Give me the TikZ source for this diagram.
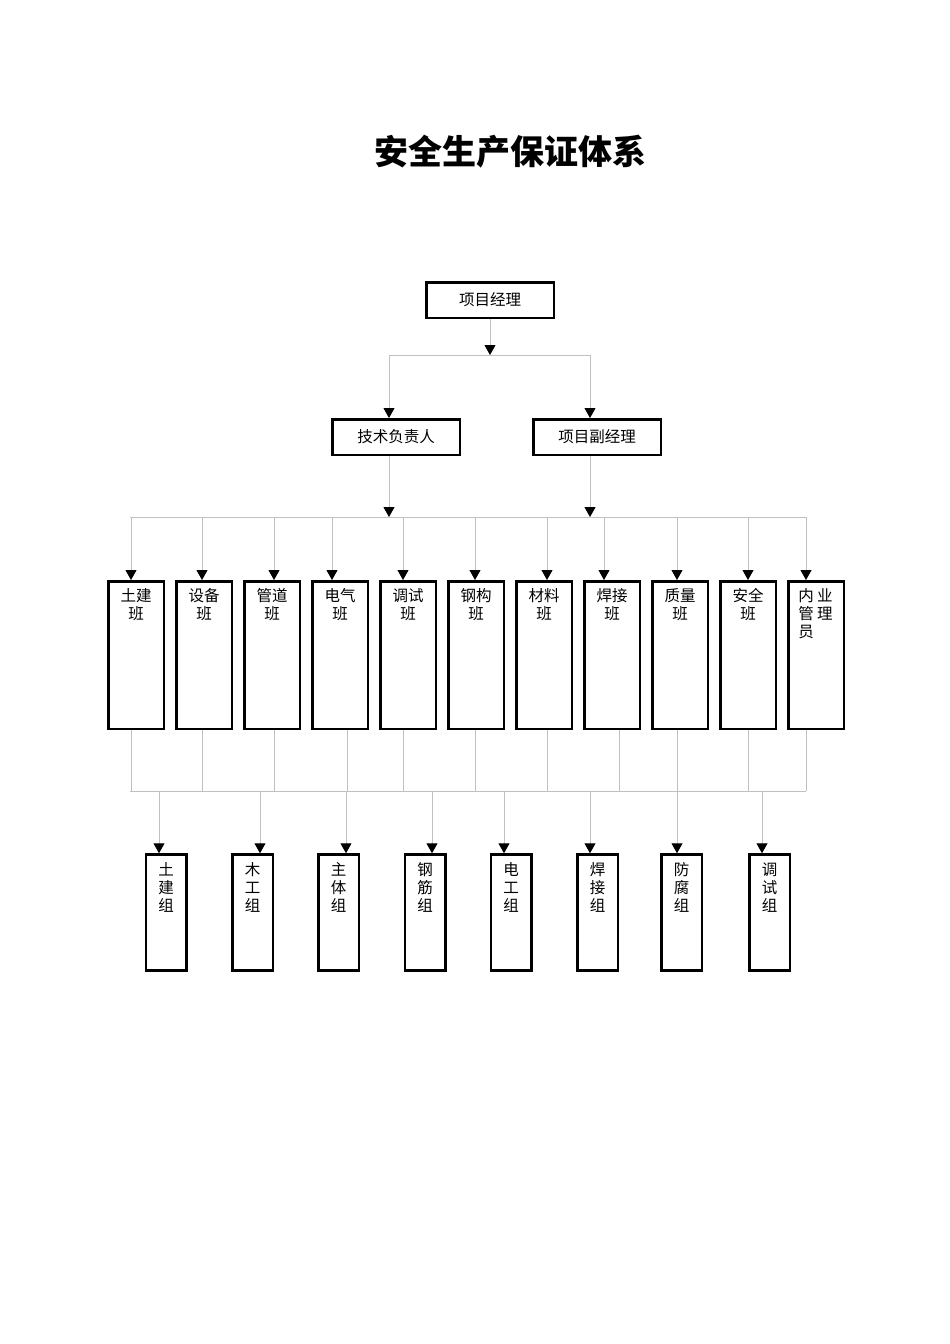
\documentclass[tikz,border=0pt]{standalone}
\usepackage{fontspec}
\setmainfont{Noto Sans CJK SC}
\usetikzlibrary{arrows.meta}
\definecolor{lgray}{RGB}{192,192,192}
\begin{document}
\begin{tikzpicture}[x=1pt,y=-1pt,
  box/.style={draw=black, line width=2.5pt, inner sep=0pt, fill=white, font=\fontsize{15.5}{18}\selectfont},
  conn/.style={draw=lgray, line width=1pt},
  arr/.style={conn, -{Triangle[width=11pt,length=10pt,fill=black,color=black]}},
  titletext/.style={font=\fontsize{34}{40}\selectfont\bfseries}]
\fill[white] (0,0) rectangle (950,1344);
\useasboundingbox (0,0) rectangle (950,1344);

\node[titletext] (title) at (510,152) {安全生产保证体系};

\node[box, minimum width=127.5pt, minimum height=35.5pt] (pm) at (490,300) {\raisebox{1.5pt}{项目经理}};
\node[box, minimum width=127.5pt, minimum height=35.5pt] (tech) at (396,437) {技术负责人};
\node[box, minimum width=127.5pt, minimum height=35.5pt] (vice) at (597,437) {项目副经理};

% level 1 -> 2
\coordinate (b1) at (490,355);
\coordinate (b1l) at (389,355);
\coordinate (b1r) at (590,355);
\draw[arr] (pm.south) -- (b1);
\draw[conn] (b1l) -- (b1r);
\draw[arr] (b1l) -- (b1l |- tech.north);
\draw[arr] (b1r) -- (b1r |- vice.north);

% level 2 -> bus
\coordinate (b2l) at (389,517);
\coordinate (b2r) at (590,517);
\draw[arr] (b2l |- tech.south) -- (b2l);
\draw[arr] (b2r |- vice.south) -- (b2r);
\coordinate (bus2a) at (130,517);
\coordinate (bus2b) at (806,517);
\draw[conn] (bus2a) -- (bus2b);

% class boxes
\foreach \n/\cx/\ax/\ux/\t in {
  c1/136/131/131/{土建\\班},
  c2/204/202/202/{设备\\班},
  c3/272/274/274/{管道\\班},
  c4/340/332/347/{电气\\班},
  c5/408/403/403/{调试\\班},
  c6/476/475/475/{钢构\\班},
  c7/544/547/547/{材料\\班},
  c8/612/604/619/{焊接\\班},
  c9/680/677/677/{质量\\班},
  c10/748/748/748/{安全\\班},
  c11/816/806/806/{\raggedright\hspace*{10pt}内 业\\\hspace*{10pt}管 理\\\hspace*{10pt}员}}{
  \node[box] (\n) at (\cx,655) {\parbox[c][147.5pt][t]{55.5pt}{\centering\vspace*{7pt}\t}};
  \coordinate (a\n) at (\ax,517);
  \draw[arr] (a\n) -- (a\n |- \n.north);
  \coordinate (u\n) at (\ux,791);
  \draw[conn] (u\n |- \n.south) -- (u\n);
}

% lower bus
\coordinate (bus3a) at (130,791);
\coordinate (bus3b) at (806,791);
\draw[conn] (bus3a) -- (bus3b);

% group boxes
\foreach \n/\cx/\dx/\t in {
  g1/166/159/{土\\建\\组},
  g2/252.5/260/{木\\工\\组},
  g3/338.5/346/{主\\体\\组},
  g4/425/432/{钢\\筋\\组},
  g5/511/504/{电\\工\\组},
  g6/597.5/590/{焊\\接\\组},
  g7/681.5/677/{防\\腐\\组},
  g8/769.5/762/{调\\试\\组}}{
  \node[box] (\n) at (\cx,912.5) {\parbox[c][116pt][t]{40.5pt}{\centering\vspace*{8pt}\t}};
  \coordinate (d\n) at (\dx,791);
  \draw[arr] (d\n) -- (d\n |- \n.north);
}
\end{tikzpicture}
\end{document}
